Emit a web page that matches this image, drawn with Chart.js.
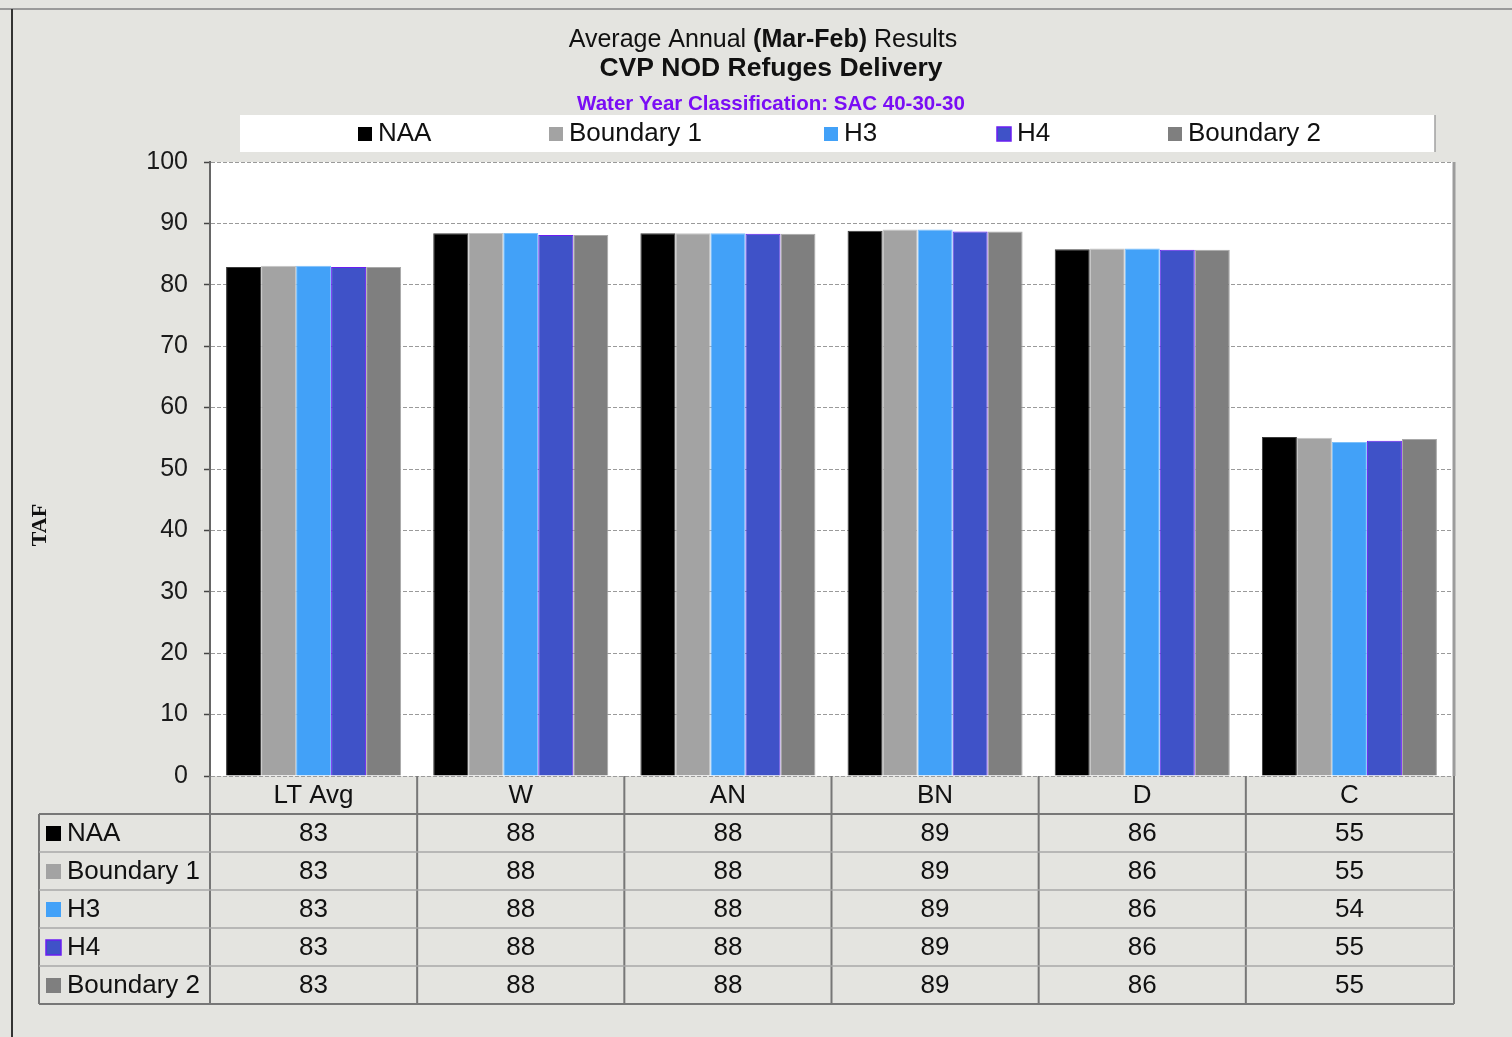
<!DOCTYPE html>
<html>
<head>
<meta charset="utf-8">
<script src="https://cdn.jsdelivr.net/npm/chart.js@4.4.1/dist/chart.umd.min.js"></script>
<style>
  body { margin: 0; background: #e4e4e0; }
  #wrap { width: 1512px; height: 1037px; }
</style>
</head>
<body>
<div id="wrap"><canvas id="refugeChart" width="1512" height="1037"></canvas></div>
<script>
// categories and series (TAF)
const categories = ["LT Avg", "W", "AN", "BN", "D", "C"];
const naa       = [82.9, 88.4, 88.4, 88.8, 85.8, 55.2];
const boundary1 = [83.1, 88.45, 88.4, 89.0, 85.9, 55.1];
const h3        = [83.1, 88.45, 88.4, 89.0, 85.9, 54.4];
const h4        = [82.9, 88.1, 88.3, 88.7, 85.7, 54.6];
const boundary2 = [82.9, 88.1, 88.3, 88.7, 85.7, 54.9];
const yTicks    = [0, 10, 20, 30, 40, 50, 60, 70, 80, 90, 100];

const seriesNames  = ["NAA", "Boundary 1", "H3", "H4", "Boundary 2"];
const seriesData   = [naa, boundary1, h3, h4, boundary2];
const seriesFill   = ["#000000", "#a3a3a3", "#42a1f8", "#3f52c8", "#7f7f7f"];
const seriesBorder = ["#3a3a3a", "#c4c4c4", "#7cc0fa", "#6a1ef2", "#a8a8a8"];

const FONT = "'Liberation Sans', Arial, sans-serif";

// white plot area + frame
const backgroundPlugin = {
  id: "background",
  beforeDraw(chart) {
    const ctx = chart.ctx;
    const a = chart.chartArea;
    ctx.save();
    ctx.fillStyle = "#e4e4e0";
    ctx.fillRect(0, 0, chart.width, chart.height);
    // outer frame
    ctx.strokeStyle = "#9a9a9a";
    ctx.lineWidth = 2;
    ctx.beginPath();
    ctx.moveTo(0, 9); ctx.lineTo(chart.width, 9);
    ctx.stroke();
    ctx.strokeStyle = "#333";
    ctx.beginPath();
    ctx.moveTo(12, 9); ctx.lineTo(12, chart.height);
    ctx.stroke();
    ctx.fillStyle = "#ffffff";
    ctx.fillRect(a.left, a.top, a.right - a.left, a.bottom - a.top);
    ctx.restore();
  }
};

// titles, legend box, axis title, data table
const decorPlugin = {
  id: "decor",
  afterDraw(chart) {
    const ctx = chart.ctx;
    const a = chart.chartArea;
    const x = chart.scales.x;
    ctx.save();

    // right border of plot
    ctx.strokeStyle = "#9c9c9c";
    ctx.lineWidth = 3;
    ctx.beginPath();
    ctx.moveTo(a.right + 1, a.top); ctx.lineTo(a.right + 1, a.bottom);
    ctx.stroke();

    // title line 1 (mixed bold)
    ctx.fillStyle = "#111";
    ctx.textBaseline = "middle";
    const parts = [["Average Annual ", "400"], ["(Mar-Feb)", "bold"], [" Results", "400"]];
    let total = 0;
    parts.forEach(p => { ctx.font = p[1] + " 25px " + FONT; total += ctx.measureText(p[0]).width; });
    let tx = 763 - total / 2;
    ctx.textAlign = "left";
    parts.forEach(p => {
      ctx.font = p[1] + " 25px " + FONT;
      ctx.fillText(p[0], tx, 40);
      tx += ctx.measureText(p[0]).width;
    });
    ctx.textAlign = "center";
    ctx.font = "bold 26.5px " + FONT;
    ctx.fillText("CVP NOD Refuges Delivery", 771, 69);
    ctx.fillStyle = "#7a0df5";
    ctx.font = "bold 20.5px " + FONT;
    ctx.fillText("Water Year Classification: SAC 40-30-30", 771, 104);

    // legend box
    ctx.fillStyle = "#ffffff";
    ctx.fillRect(240, 115, 1195, 37);
    ctx.strokeStyle = "#a0a0a0";
    ctx.lineWidth = 1.5;
    ctx.beginPath();
    ctx.moveTo(1435, 115); ctx.lineTo(1435, 152);
    ctx.stroke();
    const legX = [358, 549, 824, 997, 1168];
    ctx.font = "26px " + FONT;
    ctx.textAlign = "left";
    seriesNames.forEach((n, i) => {
      ctx.fillStyle = seriesFill[i];
      ctx.fillRect(legX[i], 127, 14, 14);
      if (i === 3) { ctx.strokeStyle = seriesBorder[3]; ctx.lineWidth = 1.5; ctx.strokeRect(legX[i], 127, 14, 14); }
      ctx.fillStyle = "#111";
      ctx.fillText(n, legX[i] + 20, 134);
    });

    // axis title
    ctx.save();
    ctx.translate(40, 525);
    ctx.rotate(-Math.PI / 2);
    ctx.textAlign = "center";
    ctx.fillStyle = "#111";
    ctx.font = "bold 22px 'Liberation Serif', 'Times New Roman', serif";
    ctx.fillText("TAF", 0, 0);
    ctx.restore();

    // data table
    const rowH = 38;
    const headTop = a.bottom;
    const headBot = headTop + rowH;
    const tableLeft = 39;
    const tableRight = a.right + 1;
    const tableBot = headBot + rowH * seriesNames.length;
    const bounds = categories.map((c, i) => x.getPixelForValue(i) - (x.getPixelForValue(1) - x.getPixelForValue(0)) / 2);
    bounds.push(tableRight);

    ctx.strokeStyle = "#777";
    ctx.lineWidth = 2;
    ctx.beginPath();
    bounds.forEach(b => { ctx.moveTo(b, headTop); ctx.lineTo(b, tableBot); });
    ctx.moveTo(tableLeft, headBot); ctx.lineTo(tableLeft, tableBot);
    ctx.moveTo(tableLeft, headBot); ctx.lineTo(tableRight, headBot);
    ctx.moveTo(tableLeft, tableBot); ctx.lineTo(tableRight, tableBot);
    ctx.stroke();
    ctx.strokeStyle = "#a8a8a8";
    ctx.lineWidth = 1.5;
    ctx.beginPath();
    for (let r = 1; r < seriesNames.length; r++) {
      const yy = headBot + r * rowH;
      ctx.moveTo(tableLeft, yy); ctx.lineTo(tableRight, yy);
    }
    ctx.stroke();

    ctx.font = "26px " + FONT;
    ctx.fillStyle = "#111";
    ctx.textAlign = "center";
    categories.forEach((c, i) => ctx.fillText(c, x.getPixelForValue(i), headTop + rowH / 2 + 1));
    seriesNames.forEach((n, r) => {
      const cy = headBot + r * rowH + rowH / 2 + 1;
      ctx.fillStyle = seriesFill[r];
      ctx.fillRect(46, cy - 8, 15, 15);
      if (r === 3) { ctx.strokeStyle = seriesBorder[3]; ctx.lineWidth = 1.5; ctx.strokeRect(46, cy - 8, 15, 15); }
      ctx.fillStyle = "#111";
      ctx.textAlign = "left";
      ctx.fillText(n, 67, cy);
      ctx.textAlign = "center";
      seriesData[r].forEach((v, i) => ctx.fillText(String(Math.round(v)), x.getPixelForValue(i), cy));
    });
    ctx.restore();
  }
};

new Chart(document.getElementById("refugeChart"), {
  type: "bar",
  data: {
    labels: categories,
    datasets: seriesNames.map((n, i) => ({
      label: n,
      data: seriesData[i],
      backgroundColor: seriesFill[i],
      borderColor: seriesBorder[i],
      borderWidth: 1,
      categoryPercentage: 0.845,
      barPercentage: 1.0
    }))
  },
  options: {
    responsive: false,
    animation: false,
    layout: { padding: { left: 0, top: 162, right: 59, bottom: 261 } },
    plugins: { legend: { display: false }, title: { display: false }, tooltip: { enabled: false } },
    scales: {
      x: { display: false },
      y: {
        min: 0,
        max: 100,
        afterBuildTicks(scale) { scale.ticks = yTicks.map(v => ({ value: v })); },
        afterFit(scale) { scale.width = 210; },
        ticks: { color: "#1a1a1a", font: { family: FONT, size: 25 }, padding: 16 },
        grid: { color: "#9a9a9a", lineWidth: 1, tickLength: 6, tickColor: "#444", tickWidth: 1.5, tickBorderDash: [] },
        border: { color: "#666", width: 2, dash: [4, 2] }
      }
    }
  },
  plugins: [backgroundPlugin, decorPlugin]
});
</script>
</body>
</html>
